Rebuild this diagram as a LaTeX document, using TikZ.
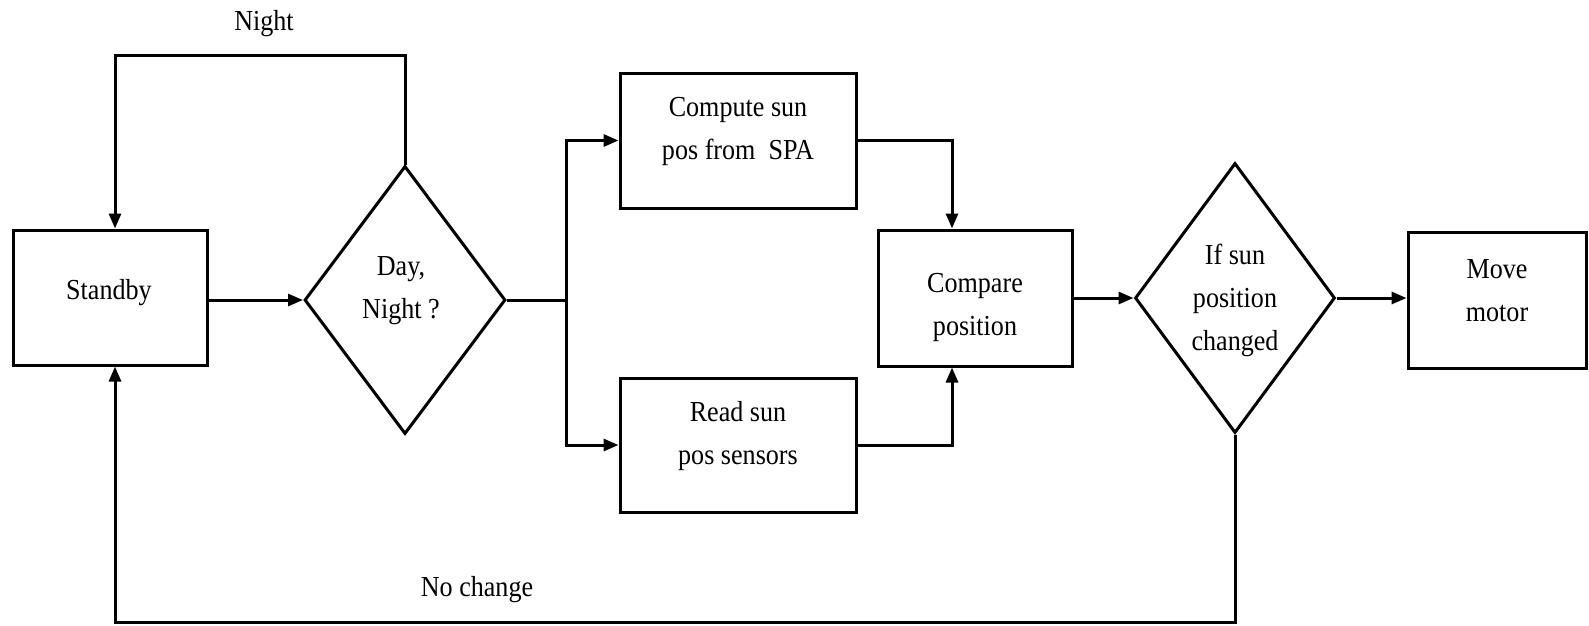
\documentclass[tikz,border=0pt]{standalone}
\usepackage{fontspec}
\setmainfont{Liberation Serif}[FakeStretch=0.9]
\usetikzlibrary{shapes.geometric,arrows.meta}
\begin{document}
\begin{tikzpicture}[x=1pt,y=-1pt,
  box/.style={draw,line width=3pt,rectangle,inner sep=0pt},
  dia/.style={draw,line width=3pt,diamond,inner sep=0pt},
  arr/.style={line width=3pt,-{Triangle[length=15pt,width=12pt]}},
  ln/.style={line width=3pt},
  txt/.style={inner sep=0pt,align=center,font=\fontsize{29}{43}\selectfont}]
\useasboundingbox (0,0) rectangle (1589,625);
% shapes
\node[box,minimum width=194pt,minimum height=135pt] (sb) at (110.8,297.5) {};
\node[dia,minimum width=201pt,minimum height=268pt] (dn) at (405,300) {};
\node[box,minimum width=236pt,minimum height=135pt] (cp) at (738,140.5) {};
\node[box,minimum width=236pt,minimum height=134pt] (rd) at (738,445) {};
\node[box,minimum width=194pt,minimum height=136pt] (cm) at (975,298) {};
\node[dia,minimum width=200pt,minimum height=270pt] (d2) at (1235,298) {};
\node[box,minimum width=178pt,minimum height=136pt] (mv) at (1497,300) {};
% texts
\node[txt] (tsb) at (109,293) {Standby};
\node[txt] (tdn) at (401,291) {Day,\\Night ?};
\node[txt] (tcp) at (738,131) {Compute sun\\pos from \ SPA};
\node[txt] (trd) at (738,436) {Read sun\\pos sensors};
\node[txt] (tcm) at (975,307) {Compare\\position};
\node[txt] (td2) at (1235,300) {If sun\\position\\changed};
\node[txt] (tmv) at (1497,291) {Move\\motor};
\node[txt] (tnight) at (264,24) {Night};
\node[txt] (tnc) at (477,590) {No change};
% coordinates
\coordinate (nightL) at (115,55);
\coordinate (br) at (566,298);
\coordinate (join) at (952,0);
\coordinate (ncL) at (115,622);
% connectors
\draw[arr] (dn.north) |- (nightL) -- (nightL |- sb.north);
\draw[arr] (sb.east |- dn.west) -- (dn.west);
\draw[ln] (dn.east) -- (dn.east -| br);
\draw[arr] (dn.east -| br) |- (cp.west);
\draw[arr] (dn.east -| br) |- (rd.west);
\draw[arr] (cp.east) -| (join |- cm.north);
\draw[arr] (rd.east) -| (join |- cm.south);
\draw[arr] (cm.east) -- (d2.west);
\draw[arr] (d2.east) -- (d2.east -| mv.west);
\draw[arr] (d2.south) |- (ncL) -- (ncL |- sb.south);
\end{tikzpicture}
\end{document}
